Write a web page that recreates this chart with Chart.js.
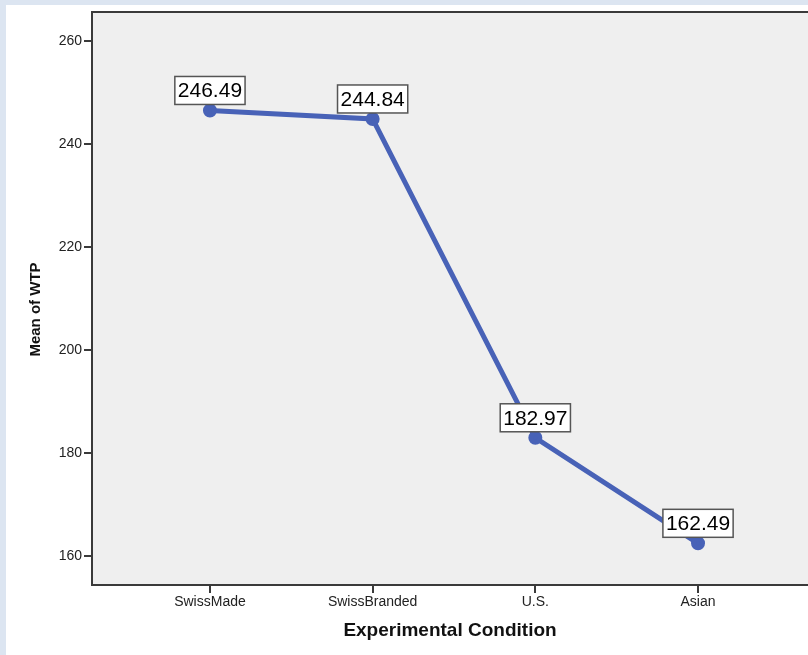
<!DOCTYPE html>
<html>
<head>
<meta charset="utf-8">
<script src="https://cdn.jsdelivr.net/npm/chart.js@4/dist/chart.umd.min.js"></script>
<style>
  html, body { margin: 0; padding: 0; }
  body { width: 808px; height: 655px; background: #dce5f1; overflow: hidden; position: relative; }
  #wrap { position: absolute; left: 6px; top: 5px; width: 802px; height: 650px; background: #fff; }
</style>
</head>
<body>
<div id="wrap"><canvas id="chart" width="802" height="650"></canvas></div>
<script>
// data
const conditions = ['SwissMade', 'SwissBranded', 'U.S.', 'Asian'];
const meanWTP = [246.49, 244.84, 182.97, 162.49];
const yTicks = [160, 180, 200, 220, 240, 260];
const yTitle = 'Mean of WTP';

const FONT = "'Liberation Sans', Arial, sans-serif";
const AXIS = '#3a3a3a';

// grey plot background, top frame line and the y title (sits a bit below centre in the original)
const plotFrame = {
  id: 'plotFrame',
  beforeDraw(chart) {
    const { ctx, chartArea: a } = chart;
    ctx.save();
    ctx.fillStyle = '#efefef';
    ctx.fillRect(a.left, a.top, a.right - a.left, a.bottom - a.top);
    ctx.restore();
  },
  afterDraw(chart) {
    const { ctx, chartArea: a } = chart;
    ctx.save();
    ctx.strokeStyle = AXIS;
    ctx.lineWidth = 2;
    ctx.beginPath();
    ctx.moveTo(a.left - 1, a.top);
    ctx.lineTo(a.right, a.top);
    ctx.stroke();

    ctx.translate(30, (a.top + a.bottom) / 2 + 11);
    ctx.rotate(-Math.PI / 2);
    ctx.font = 'bold 15px ' + FONT;
    ctx.fillStyle = '#111';
    ctx.textAlign = 'center';
    ctx.textBaseline = 'middle';
    ctx.fillText(yTitle, 0, 0);
    ctx.restore();
  }
};

// boxed value labels above each point
const valueBoxes = {
  id: 'valueBoxes',
  afterDatasetsDraw(chart) {
    const { ctx } = chart;
    const meta = chart.getDatasetMeta(0);
    ctx.save();
    ctx.font = '21px ' + FONT;
    ctx.textAlign = 'center';
    ctx.textBaseline = 'middle';
    meta.data.forEach((pt, i) => {
      const txt = meanWTP[i].toFixed(2);
      const w = ctx.measureText(txt).width + 6;
      const h = 28;
      const x = pt.x - w / 2;
      const y = pt.y - 6 - h;
      ctx.fillStyle = '#fff';
      ctx.fillRect(x, y, w, h);
      ctx.strokeStyle = '#555';
      ctx.lineWidth = 1.5;
      ctx.strokeRect(x, y, w, h);
      ctx.fillStyle = '#000';
      ctx.fillText(txt, pt.x, y + h / 2 + 1);
    });
    ctx.restore();
  }
};

new Chart(document.getElementById('chart'), {
  type: 'line',
  data: {
    datasets: [{
      data: meanWTP.map((v, i) => ({ x: i, y: v })),
      borderColor: '#4862b7',
      backgroundColor: '#4862b7',
      borderWidth: 5,
      pointRadius: 4.5,
      pointHoverRadius: 4.5,
      tension: 0
    }]
  },
  options: {
    responsive: false,
    animation: false,
    layout: { autoPadding: false, padding: { top: 7, left: 0, right: 0, bottom: 0 } },
    plugins: { legend: { display: false }, tooltip: { enabled: false } },
    scales: {
      x: {
        type: 'linear',
        min: -0.725,
        max: 3.676,
        afterFit(s) { s.height = 70; s.paddingLeft = 0; s.paddingRight = 0; },
        afterBuildTicks(s) { s.ticks = conditions.map((c, i) => ({ value: i })); },
        ticks: {
          callback: (v) => conditions[v],
          color: '#222',
          font: { family: FONT, size: 14 },
          padding: 1,
          maxRotation: 0
        },
        grid: { drawOnChartArea: false, drawTicks: true, tickLength: 8, color: AXIS, lineWidth: 2 },
        border: { display: true, color: AXIS, width: 2 },
        title: {
          display: true,
          text: 'Experimental Condition',
          color: '#111',
          font: { family: FONT, size: 19, weight: 'bold' },
          padding: { top: 0, bottom: 13 }
        }
      },
      y: {
        min: 154.4,
        max: 265.6,
        afterFit(s) { s.width = 86; s.paddingTop = 0; s.paddingBottom = 0; },
        afterBuildTicks(s) { s.ticks = yTicks.map(v => ({ value: v })); },
        ticks: {
          color: '#222',
          font: { family: FONT, size: 14 },
          padding: 2
        },
        grid: { drawOnChartArea: false, drawTicks: true, tickLength: 8, color: AXIS, lineWidth: 2 },
        border: { display: true, color: AXIS, width: 2 },
        title: { display: false }
      }
    }
  },
  plugins: [plotFrame, valueBoxes]
});
</script>
</body>
</html>
